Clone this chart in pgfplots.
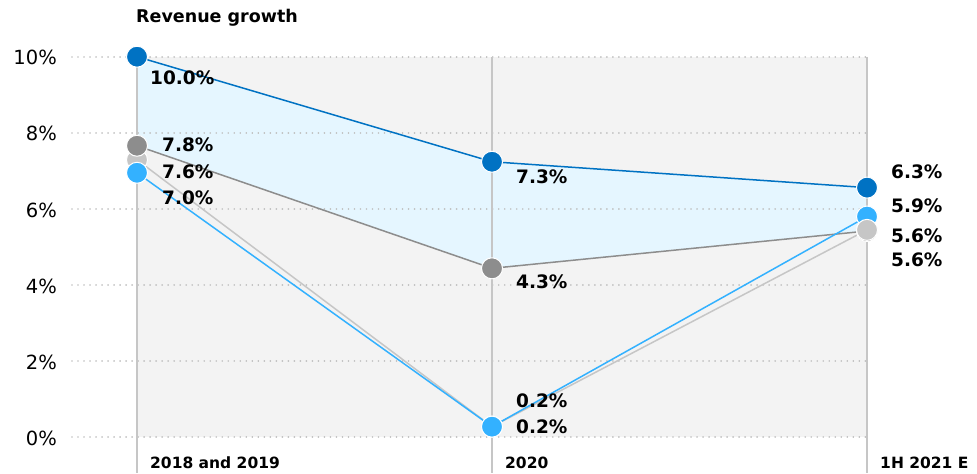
\documentclass[border=0pt]{standalone}
\usepackage{pgfplots}
\pgfplotsset{compat=1.18}
\usepackage{fontspec}
\setmainfont{DejaVu Sans}
\definecolor{cdark}{HTML}{0072C3}
\definecolor{clight}{HTML}{33B1FF}
\definecolor{cgray}{HTML}{8D8D8D}
\definecolor{clgray}{HTML}{C6C6C6}
\definecolor{cbg}{HTML}{F3F3F3}
\definecolor{cfill}{HTML}{E5F6FF}
\definecolor{cgrid}{HTML}{C0C0C0}
\begin{document}
\begin{tikzpicture}
\begin{axis}[
  set layers,
  scale only axis,
  width=795bp, height=380.6bp,
  xmin=-65, xmax=730, ymin=0, ymax=10,
  clip=false,
  axis line style={draw=none},
  major tick length=0pt,
  ytick={0,2,4,6,8,10},
  yticklabel={\pgfmathprintnumber{\tick}\%},
  /pgf/number format/assume math mode=true,
  yticklabel style={font=\fontsize{19.5bp}{22bp}\selectfont, anchor=east, inner xsep=0pt, xshift=-15bp, yshift=-1bp},
  xtick={0,355,730},
  xticklabels={2018 and 2019,2020,1H 2021 E},
  xticklabel style={font=\fontsize{15.5bp}{18bp}\selectfont\bfseries, anchor=base west, inner sep=0pt, xshift=13bp, yshift=-30.7bp},
  ymajorgrids,
  grid style={cgrid, line width=1.8bp, dash pattern=on 0.01bp off 6bp, line cap=round},
  mark options={solid},
]
% background panel
\addplot[on layer=axis background, fill=cbg, draw=none] coordinates {(0,0) (730,0) (730,10) (0,10)} -- cycle;
% band between dark blue and gray series
\addplot[on layer=axis background, fill=cfill, draw=none] coordinates {(0,10) (355,7.24) (730,6.56) (730,5.42) (355,4.44) (0,7.66)} -- cycle;
% vertical category lines
\draw[clgray, line width=1.3bp] (axis cs:0,10) -- (axis cs:0,-0.94);
\draw[clgray, line width=1.3bp] (axis cs:355,10) -- (axis cs:355,-0.94);
\draw[clgray, line width=1.3bp] (axis cs:730,10) -- (axis cs:730,-0.94);
% series
\addplot[clgray, line width=1.5bp, mark=*, mark size=10.5bp, mark options={fill=clgray, draw=white, line width=1bp}] coordinates {(0,7.29) (355,0.28) (730,5.45)};
\addplot[cgray, line width=1.5bp, mark=*, mark size=10.5bp, mark options={fill=cgray, draw=white, line width=1bp}] coordinates {(0,7.66) (355,4.44) (730,5.42)};
\addplot[clight, line width=1.5bp, mark=*, mark size=10.5bp, mark options={fill=clight, draw=white, line width=1bp}] coordinates {(0,6.95) (355,0.28) (730,5.80)};
\addplot[cdark, line width=1.5bp, mark=*, mark size=10.5bp, mark options={fill=cdark, draw=white, line width=1bp}] coordinates {(0,10.0) (355,7.24) (730,6.56)};
\addplot[only marks, mark=*, mark size=10.5bp, mark options={fill=clgray, draw=white, line width=1bp}] coordinates {(730,5.45)};
% value labels
\begin{scope}[every node/.style={font=\fontsize{18.5bp}{20bp}\selectfont\bfseries, anchor=west, inner sep=0pt, text=black}]
\node at (axis cs:13,9.44) {10.0\%};
\node at (axis cs:25,7.69) {7.8\%};
\node at (axis cs:25,6.98) {7.6\%};
\node at (axis cs:25,6.30) {7.0\%};
\node at (axis cs:379,6.85) {7.3\%};
\node at (axis cs:379,4.08) {4.3\%};
\node at (axis cs:379,0.97) {0.2\%};
\node at (axis cs:379,0.27) {0.2\%};
\node at (axis cs:754,6.97) {6.3\%};
\node at (axis cs:754,6.09) {5.9\%};
\node at (axis cs:754,5.29) {5.6\%};
\node at (axis cs:754,4.66) {5.6\%};
\end{scope}
\node[anchor=west, inner sep=0pt, font=\fontsize{17.5bp}{20bp}\selectfont\bfseries] at (axis cs:-1,11.02) {Revenue growth};
\end{axis}
\path ([shift={(-72bp,-35.7bp)}]current axis.south west) rectangle ([shift={(110bp,56.7bp)}]current axis.north east);
\end{tikzpicture}
\end{document}
